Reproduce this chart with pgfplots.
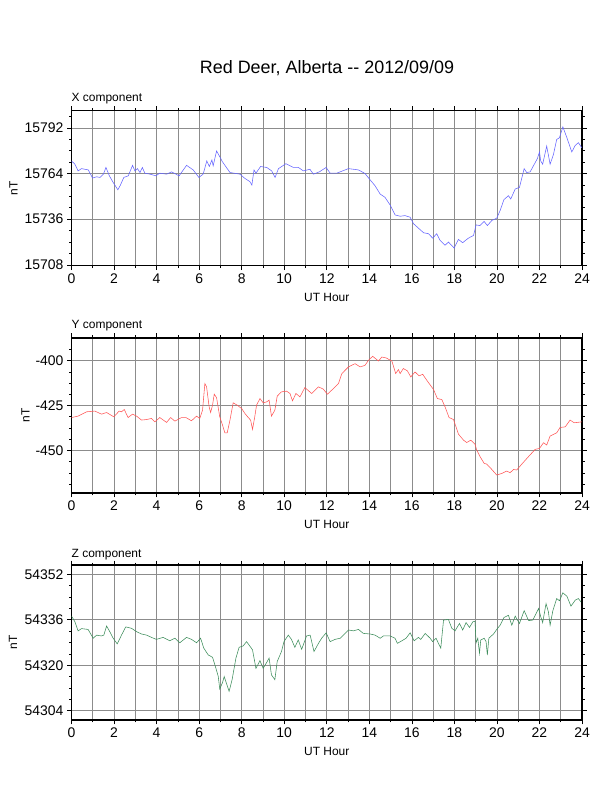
\documentclass[border=0pt]{standalone}
\usepackage{fontspec}
\setmainfont{Liberation Sans}
\usepackage{pgfplots}
\pgfplotsset{compat=1.18}
\definecolor{xcol}{RGB}{100,100,255}
\definecolor{ycol}{RGB}{255,85,85}
\definecolor{zcol}{RGB}{60,140,90}
\pgfplotsset{
  panel/.style={
    scale only axis, width=510.5bp, height=155bp,
    xmin=0, xmax=24, xtick={0,2,...,24}, minor xtick={1,3,...,23},
    xmajorgrids, xminorgrids, ymajorgrids,
    grid style={black!45, line width=0.6bp},
    minor grid style={black!45, line width=0.6bp},
    tick align=outside, tick pos=both, xticklabel pos=left, yticklabel pos=left,
    major tick length=4.5bp, minor tick length=2.5bp,
    every tick/.style={black, line width=0.6bp},
    axis line style={line width=1.1bp},
    tick label style={font=\fontsize{14}{14}\selectfont},
    /pgf/number format/assume math mode=true,
    /pgf/number format/set thousands separator={},
    /pgf/number format/fixed,
    scaled y ticks=false,
    xlabel={UT Hour},
    xlabel style={font=\fontsize{12}{12}\selectfont, at={(axis description cs:0.5,-0.202)}, anchor=center},
    ylabel={nT},
    title style={font=\fontsize{12}{12}\selectfont, at={(axis description cs:0,1)}, anchor=west, yshift=6bp, xshift=0bp, inner sep=0pt},
    every axis plot/.append style={line width=0.55bp, mark=none},
  }
}
\begin{document}
\begin{tikzpicture}[x=1bp,y=1bp]
\path[use as bounding box] (0,0) rectangle (612,792);
\node[font=\fontsize{18}{18}\selectfont] at (327,724) {Red Deer, Alberta -{}- 2012/09/09};

% ---------------- X component
\begin{axis}[panel, at={(71.5bp,526.3bp)}, anchor=south west,
  ymin=15707.5, ymax=15802.5,
  ytick={15708,15736,15764,15792},
  minor ytick={15715,15722,15729,15743,15750,15757,15771,15778,15785,15799},
  title={X component},
  ylabel style={font=\fontsize{12}{12}\selectfont, at={(axis description cs:-0.1136,0.5)}, anchor=center, rotate=0}]
\addplot[xcol] coordinates {
(0,15771.7)(0.16,15769.7)(0.31,15765.6)(0.47,15767)(0.79,15766.2)(0.99,15761.2)(1.18,15762)(1.34,15761.6)(1.5,15763.6)(1.62,15767.7)(1.78,15762.6)(1.96,15758.5)(2.18,15754)(2.3,15756.9)(2.46,15761.6)(2.67,15762.6)(2.87,15769)(2.98,15765.6)(3.1,15767)(3.22,15764.6)(3.33,15767.7)(3.45,15764.2)(3.69,15763.6)(3.97,15762.6)(4.15,15764.2)(4.47,15763.6)(4.7,15765)(5.06,15762.6)(5.41,15769)(5.72,15766.2)(5.99,15761.6)(6.19,15763.6)(6.36,15771.7)(6.48,15768.3)(6.6,15772.3)(6.66,15768.7)(6.82,15777.8)(6.97,15774.3)(7.1,15771.1)(7.45,15764.6)(7.92,15763.6)(8.15,15761)(8.39,15759)(8.48,15756.9)(8.58,15766.2)(8.67,15764.2)(8.89,15768.3)(9.18,15767.7)(9.41,15765.6)(9.57,15761.6)(9.73,15767)(10.08,15770)(10.43,15767.7)(10.67,15767.7)(10.9,15765.6)(11.21,15766.6)(11.37,15763.6)(11.65,15765)(11.97,15767.7)(12.16,15764.2)(12.47,15764.2)(13.02,15767)(13.49,15766.2)(13.8,15764)(14.04,15760.1)(14.27,15756.5)(14.51,15751.4)(14.74,15749.4)(14.98,15744.7)(15.21,15738.6)(15.45,15737.8)(15.68,15738.2)(15.92,15737.2)(16.08,15733.2)(16.31,15730.5)(16.55,15727.7)(16.78,15727.1)(16.98,15724.4)(17.17,15727.1)(17.33,15723)(17.56,15720)(17.72,15722)(17.99,15718.3)(18.19,15723.6)(18.39,15721.6)(18.66,15724.4)(18.9,15726)(19.02,15732.5)(19.2,15732.1)(19.4,15734.6)(19.55,15732.1)(19.76,15735.2)(19.99,15736.6)(20.15,15741.3)(20.33,15748)(20.54,15750.4)(20.65,15748.4)(20.86,15754.5)(21.06,15755.5)(21.28,15767)(21.4,15764.6)(21.56,15765)(21.8,15770.7)(21.9,15773.1)(22.0,15777.2)(22.06,15771.7)(22.15,15769.7)(22.34,15780.8)(22.5,15769.7)(22.66,15775.8)(22.81,15784.9)(22.94,15785.9)(23.1,15792.6)(23.29,15785.9)(23.52,15777.2)(23.68,15781.2)(23.83,15782.9)(23.99,15779.8)
};
\end{axis}

% ---------------- Y component
\begin{axis}[panel, at={(71.5bp,299bp)}, anchor=south west,
  ymin=-473.7, ymax=-387.4,
  ytick={-450,-425,-400},
  minor ytick={-468.75,-462.5,-456.25,-443.75,-437.5,-431.25,-418.75,-412.5,-406.25,-393.75},
  title={Y component},
  ylabel style={font=\fontsize{12}{12}\selectfont, at={(axis description cs:-0.0901,0.5)}, anchor=center, rotate=0}]
\addplot[ycol] coordinates {
(0,-431.7)(0.31,-430.9)(0.71,-428.5)(1.1,-428.1)(1.41,-429.8)(1.65,-428.9)(1.99,-431.3)(2.24,-428.1)(2.35,-428.5)(2.48,-427.2)(2.66,-431.7)(2.87,-429.8)(3.06,-430.9)(3.29,-433.1)(3.53,-432.8)(3.76,-432.2)(3.92,-434.1)(4.15,-431.7)(4.47,-434.4)(4.66,-431.7)(4.86,-433.7)(5.17,-431.7)(5.38,-431.7)(5.64,-433.5)(5.88,-430.9)(6.03,-432.2)(6.16,-427.6)(6.27,-412.8)(6.35,-414.6)(6.47,-425.7)(6.54,-428.9)(6.63,-424.8)(6.71,-418.7)(6.82,-420.6)(6.97,-431.3)(7.1,-435.9)(7.21,-440.2)(7.32,-440.2)(7.45,-433.1)(7.6,-423.5)(7.79,-424.8)(8.0,-426.7)(8.15,-429.4)(8.31,-431.7)(8.42,-433.1)(8.51,-438.3)(8.62,-430.9)(8.7,-424.8)(8.86,-421.1)(9.01,-423.5)(9.17,-423)(9.29,-422)(9.4,-430.9)(9.56,-427.6)(9.67,-419.8)(9.87,-417.4)(10.11,-417)(10.27,-418.3)(10.39,-422.4)(10.55,-418.3)(10.74,-420.2)(10.97,-415)(11.29,-418.3)(11.61,-414.6)(11.84,-415.9)(12.03,-418.7)(12.31,-415.6)(12.55,-412.8)(12.71,-407.2)(13.02,-403.5)(13.33,-401.7)(13.57,-403.5)(13.8,-402.6)(13.96,-399.8)(14.16,-397.6)(14.43,-400.2)(14.59,-398)(14.79,-398.5)(15.06,-400.2)(15.24,-407.2)(15.37,-405)(15.45,-407.2)(15.6,-404.4)(15.79,-405.7)(15.95,-409.1)(16.15,-406.3)(16.34,-408.5)(16.51,-407.6)(16.7,-410.9)(17.02,-416.1)(17.2,-421.1)(17.41,-421.7)(17.56,-425.7)(17.75,-431.7)(17.96,-432.8)(18.19,-440.9)(18.43,-444.3)(18.58,-445.6)(18.77,-444.3)(18.97,-446.5)(19.05,-449.8)(19.21,-453.5)(19.4,-457.2)(19.52,-457.6)(19.76,-460.6)(19.99,-463.7)(20.23,-462.8)(20.46,-461.5)(20.62,-462.4)(20.78,-460.6)(20.93,-460.9)(21.17,-457.6)(21.48,-453.5)(21.8,-449.4)(22.0,-448.9)(22.19,-445.7)(22.34,-447)(22.5,-442)(22.81,-440.2)(22.97,-437.2)(23.21,-436.9)(23.44,-433.1)(23.63,-434.6)(23.99,-434.1)
};
\end{axis}

% ---------------- Z component
\begin{axis}[panel, at={(71.5bp,72bp)}, anchor=south west,
  ymin=54300.7, ymax=54355.3,
  ytick={54304,54320,54336,54352},
  minor ytick={54308,54312,54316,54324,54328,54332,54340,54344,54348},
  title={Z component},
  title style={yshift=-1.3bp},
  ylabel style={font=\fontsize{12}{12}\selectfont, at={(axis description cs:-0.1146,0.5)}, anchor=center, rotate=0}]
\addplot[zcol] coordinates {
(0,54337.3)(0.16,54335.3)(0.31,54332.1)(0.47,54332.9)(0.78,54332.6)(1.02,54329.5)(1.18,54330.6)(1.41,54330.3)(1.52,54330.6)(1.65,54333.8)(1.8,54331.8)(1.96,54329.5)(2.15,54327.5)(2.35,54330.6)(2.55,54333.5)(2.82,54333)(3.06,54331.8)(3.29,54331)(3.53,54330.6)(3.76,54329.8)(3.99,54329.1)(4.31,54329.8)(4.62,54328.6)(4.86,54329.5)(5.09,54327.9)(5.41,54329.8)(5.64,54329.1)(5.88,54327.9)(6.07,54329.5)(6.22,54326)(6.43,54323.6)(6.63,54322.8)(6.79,54318.9)(6.9,54316)(6.97,54311.6)(7.1,54313.9)(7.18,54316)(7.29,54313.5)(7.41,54310.8)(7.55,54314.9)(7.73,54322.5)(7.88,54326.3)(8.07,54326.8)(8.23,54328.3)(8.35,54327.1)(8.51,54325.4)(8.67,54318.9)(8.86,54321.6)(9.01,54318.9)(9.17,54320.9)(9.29,54322.5)(9.4,54316.6)(9.56,54314.9)(9.67,54321.3)(9.87,54324.8)(9.99,54328.3)(10.19,54330.6)(10.34,54329.1)(10.5,54326.3)(10.66,54328.9)(10.82,54325.6)(11.05,54330.3)(11.22,54330.6)(11.4,54324.8)(11.61,54327.7)(11.76,54329.5)(11.97,54331.4)(12.16,54328.3)(12.39,54329.1)(12.63,54329.5)(13.02,54332.4)(13.25,54332.1)(13.49,54332.6)(13.72,54331.2)(14.04,54331)(14.27,54330.6)(14.51,54329.5)(14.66,54330.3)(14.98,54330.3)(15.21,54329.5)(15.32,54327.7)(15.53,54328.6)(15.73,54329.5)(15.92,54331.4)(16.11,54328.6)(16.31,54329.8)(16.42,54329.1)(16.63,54331.2)(16.86,54329.5)(16.98,54328.3)(17.14,54329.5)(17.25,54327.7)(17.36,54326)(17.49,54335.9)(17.72,54336.1)(17.88,54333)(18.03,54332.1)(18.24,54334.7)(18.39,54332.4)(18.55,54335)(18.71,54333.3)(18.87,54335.3)(18.97,54335.5)(19.02,54327.9)(19.1,54329.5)(19.18,54324.2)(19.24,54328.9)(19.4,54329.5)(19.49,54328.3)(19.55,54323.6)(19.62,54329.5)(19.84,54331)(19.99,54332.6)(20.15,54334.1)(20.33,54336.8)(20.54,54337.6)(20.7,54334.1)(20.86,54337.3)(21.06,54334.7)(21.28,54339.2)(21.49,54335.7)(21.69,54335.9)(21.96,54340)(22.06,54337.1)(22.15,54335)(22.31,54341.7)(22.42,54338.8)(22.5,54334.1)(22.63,54339.2)(22.81,54343.5)(22.94,54342.7)(23.1,54345.5)(23.29,54344.3)(23.48,54340.8)(23.68,54342.9)(23.83,54343.5)(23.95,54342.3)
};
\end{axis}
\end{tikzpicture}
\end{document}
